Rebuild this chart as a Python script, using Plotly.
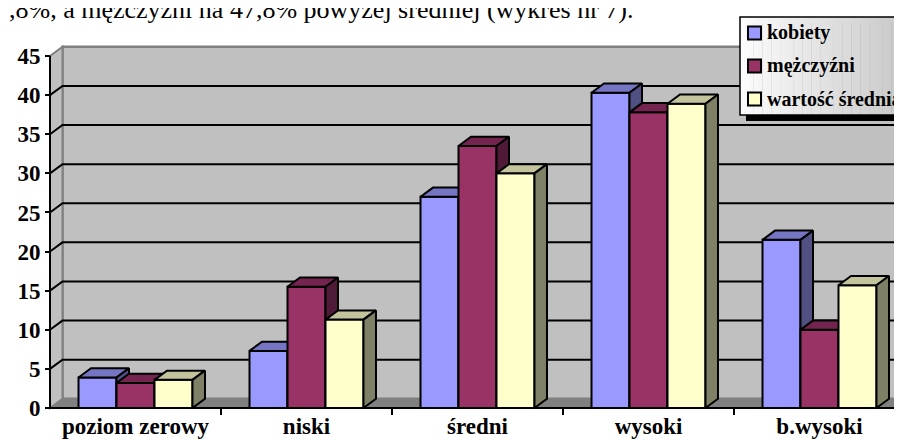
import plotly.graph_objects as go

# ---------------- data ----------------
categories = ["poziom zerowy", "niski", "średni", "wysoki", "b.wysoki"]
kobiety = [3.9, 7.3, 27.0, 40.3, 21.5]
mezczyzni = [3.2, 15.5, 33.5, 37.8, 10.0]
srednia = [3.6, 11.3, 30.0, 38.9, 15.7]
series_names = ["kobiety", "mężczyźni", "wartość średnia"]
y_ticks = [0, 5, 10, 15, 20, 25, 30, 35, 40, 45]
grid_vals = [5, 10, 15, 20, 25, 30, 35, 40]
top_text = ",8%, a mężczyźni na 47,8% powyżej średniej (wykres nr 7)."

# ---------------- layout geometry ----------------
W, H = 902, 440
ML, MR, MT, MB = 30, 0, 37, 36
PW, PH = W - ML - MR, H - MT - MB
PX_X = 171.0            # px per category
PX_Y = 352.0 / 45.0     # px per value unit
FRONT_X_PX = 42         # pixel x of front value axis
xr0 = -0.5 - (FRONT_X_PX - ML) / PX_X
xr1 = xr0 + PW / PX_X
yr0 = -4 / PX_Y
yr1 = yr0 + PH / PX_Y
DX = 12.5 / PX_X        # depth offset (category units)
DY = 9.2 / PX_Y         # depth offset (value units)
BW = 0.2222             # bar width
YMAX = 45

FONT = "Liberation Serif"
front_col = ["#9999FF", "#993366", "#FFFFCC"]
top_col = ["#7575C4", "#73254F", "#C4C49C"]
side_col = ["#505082", "#4E1A35", "#808066"]
series_vals = [kobiety, mezczyzni, srednia]

def bold(t):
    return f"<b>{t}</b>"

fig = go.Figure()

for s, (name, vals) in enumerate(zip(series_names, series_vals)):
    suf = "" if s == 0 else str(s + 1)
    off = -1.5 * BW + s * BW
    fig.add_trace(go.Bar(
        x=list(range(len(categories))), y=vals, width=BW, offset=off,
        name=name, showlegend=False,
        marker=dict(color=front_col[s], line=dict(color="black", width=2)),
        xaxis="x" + suf, yaxis="y" + suf, hoverinfo="skip"))
    tx, ty, sx, sy = [], [], [], []
    for i, v in enumerate(vals):
        x0 = i + off
        x1 = x0 + BW
        tx += [x0, x1, x1 + DX, x0 + DX, x0, None]
        ty += [v, v, v + DY, v + DY, v, None]
        sx += [x1, x1, x1 + DX, x1 + DX, x1, None]
        sy += [0, v, v + DY, DY, 0, None]
    fig.add_trace(go.Scatter(
        x=tx, y=ty, mode="lines", fill="toself", fillcolor=top_col[s],
        line=dict(color="black", width=2), showlegend=False, hoverinfo="skip",
        xaxis="x" + suf, yaxis="y" + suf))
    fig.add_trace(go.Scatter(
        x=sx, y=sy, mode="lines", fill="toself", fillcolor=side_col[s],
        line=dict(color="black", width=2), showlegend=False, hoverinfo="skip",
        xaxis="x" + suf, yaxis="y" + suf))

# ---------------- walls, floor, gridlines ----------------
shapes = []
XE = xr1 + 1
shapes.append(dict(type="rect", xref="x", yref="y", layer="below",
                   x0=-0.5 + DX, x1=XE, y0=DY, y1=YMAX + DY,
                   fillcolor="#C0C0C0", line=dict(color="#808080", width=2.5)))
shapes.append(dict(type="path", xref="x", yref="y", layer="below",
                   path=f"M {-0.5},{0} L {-0.5},{YMAX} L {-0.5 + DX},{YMAX + DY} L {-0.5 + DX},{DY} Z",
                   fillcolor="#C0C0C0", line=dict(color="#808080", width=2)))
shapes.append(dict(type="path", xref="x", yref="y", layer="below",
                   path=f"M {-0.5},{0} L {XE},{0} L {XE},{DY} L {-0.5 + DX},{DY} Z",
                   fillcolor="#808080", line=dict(color="#808080", width=1)))
for v in grid_vals:
    shapes.append(dict(type="path", xref="x", yref="y", layer="below",
                       path=f"M {-0.5},{v} L {-0.5 + DX},{v + DY} L {XE},{v + DY}",
                       line=dict(color="black", width=2)))
# front axis lines
shapes.append(dict(type="line", xref="x", yref="y", layer="above",
                   x0=-0.5, x1=-0.5, y0=0, y1=YMAX, line=dict(color="black", width=2)))
shapes.append(dict(type="line", xref="x", yref="y", layer="above",
                   x0=-0.5, x1=XE, y0=0, y1=0, line=dict(color="black", width=2)))

# ---------------- legend (box, shadow, keys, labels) ----------------
def px_to_paper_x(px):
    return (px - ML) / PW
def px_to_paper_y(py):
    return 1 + (MT - py) / PH

LEG_L, LEG_T, LEG_B, LEG_R = 732, 9, 107, 910
SH_OFF = 6
shapes.append(dict(type="rect", xref="paper", yref="paper", layer="above",
                   x0=px_to_paper_x(LEG_L + SH_OFF), x1=px_to_paper_x(LEG_R + SH_OFF),
                   y0=px_to_paper_y(LEG_B + SH_OFF), y1=px_to_paper_y(LEG_T + SH_OFF),
                   fillcolor="black", line=dict(width=0)))
N_STRIPS = 40
for k in range(N_STRIPS):
    t = k / (N_STRIPS - 1)
    g = int(round(252 - t * (252 - 196)))
    xa = LEG_L + (LEG_R - LEG_L) * k / N_STRIPS
    xb = LEG_L + (LEG_R - LEG_L) * (k + 1) / N_STRIPS + 0.5
    shapes.append(dict(type="rect", xref="paper", yref="paper", layer="above",
                       x0=px_to_paper_x(xa), x1=px_to_paper_x(xb),
                       y0=px_to_paper_y(LEG_B), y1=px_to_paper_y(LEG_T),
                       fillcolor=f"rgb({g},{g},{g})", line=dict(width=0)))
shapes.append(dict(type="rect", xref="paper", yref="paper", layer="above",
                   x0=px_to_paper_x(LEG_L), x1=px_to_paper_x(LEG_R),
                   y0=px_to_paper_y(LEG_B), y1=px_to_paper_y(LEG_T),
                   fillcolor="rgba(0,0,0,0)", line=dict(color="black", width=1.5)))

annotations = []
item_y = [25, 58, 91]
for s, name in enumerate(series_names):
    cy = item_y[s]
    shapes.append(dict(type="rect", xref="paper", yref="paper", layer="above",
                       x0=px_to_paper_x(740), x1=px_to_paper_x(753),
                       y0=px_to_paper_y(cy + 6.5), y1=px_to_paper_y(cy - 6.5),
                       fillcolor=front_col[s], line=dict(color="black", width=2)))
    annotations.append(dict(text=bold(name), xref="paper", yref="paper",
                            x=px_to_paper_x(757), y=px_to_paper_y(cy),
                            xanchor="left", yanchor="middle", showarrow=False,
                            font=dict(family=FONT, size=20, color="black")))

annotations.append(dict(text=top_text, xref="paper", yref="paper",
                        x=px_to_paper_x(-1), y=px_to_paper_y(18),
                        xanchor="left", yanchor="bottom", showarrow=False,
                        font=dict(family=FONT, size=26, color="black")))

axis_font = dict(family=FONT, size=23, color="black")

fig.update_layout(
    width=W, height=H,
    margin=dict(l=ML, r=MR, t=MT, b=MB, autoexpand=False),
    paper_bgcolor="white", plot_bgcolor="white",
    font=dict(family=FONT, color="black"),
    barmode="overlay",
    showlegend=False,
    xaxis=dict(domain=[0, 1], range=[xr0, xr1], anchor="free",
               position=4 / PH,
               tickvals=list(range(len(categories))),
               ticktext=[bold(c) for c in categories],
               ticks="", showline=False, showgrid=False, zeroline=False,
               tickfont=axis_font, ticklabelstandoff=2,
               minor=dict(tickvals=[i + 0.5 for i in range(len(categories))],
                          ticks="outside", ticklen=6, tickwidth=2,
                          tickcolor="black", showgrid=False),
               fixedrange=True),
    yaxis=dict(domain=[0, 1], range=[yr0, yr1], anchor="free",
               position=(FRONT_X_PX - ML) / PW,
               tickvals=y_ticks, ticktext=[bold(v) for v in y_ticks],
               ticks="outside", ticklen=5, tickwidth=2,
               tickcolor="black", showline=False, showgrid=False,
               zeroline=False, tickfont=axis_font, fixedrange=True),
    xaxis2=dict(overlaying="x", range=[xr0, xr1], anchor="y2", visible=False),
    yaxis2=dict(overlaying="y", range=[yr0, yr1], anchor="x2", visible=False),
    xaxis3=dict(overlaying="x", range=[xr0, xr1], anchor="y3", visible=False),
    yaxis3=dict(overlaying="y", range=[yr0, yr1], anchor="x3", visible=False),
    shapes=shapes,
    annotations=annotations,
)

fig.write_html("out.html")
